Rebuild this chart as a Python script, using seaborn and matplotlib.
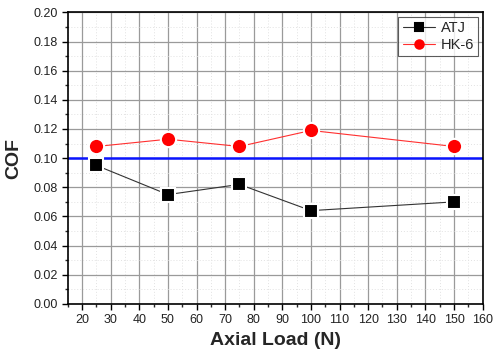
import matplotlib
matplotlib.use("Agg")
import matplotlib.pyplot as plt
import seaborn as sns
import pandas as pd
from matplotlib.ticker import MultipleLocator

loads = [25, 50, 75, 100, 150]
atj = [0.095, 0.075, 0.082, 0.064, 0.070]
hk6 = [0.108, 0.113, 0.108, 0.119, 0.108]
threshold = 0.10

sns.set_style("white")
plt.rcParams['font.family'] = ['Liberation Sans', 'DejaVu Sans']

df = pd.DataFrame({"load": loads * 2,
                   "cof": atj + hk6,
                   "series": ["ATJ"] * len(loads) + ["HK-6"] * len(loads)})

fig = plt.figure(figsize=(4.95, 3.53), dpi=100)
ax = fig.add_axes([0.137, 0.139, 0.838, 0.826])

ax.set_xlim(15, 160)
ax.set_ylim(0, 0.20)
ax.xaxis.set_major_locator(MultipleLocator(10))
ax.xaxis.set_minor_locator(MultipleLocator(5))
ax.yaxis.set_major_locator(MultipleLocator(0.02))
ax.yaxis.set_minor_locator(MultipleLocator(0.01))
ax.grid(which='major', color='#9a9a9a', linewidth=0.9)
ax.grid(which='minor', color='#e2e2e2', linewidth=0.7, linestyle=(0, (1, 2)))
ax.set_axisbelow(True)

ax.axhline(threshold, color='#0a14ff', linewidth=1.8, zorder=2)

sns.lineplot(data=df[df.series == "ATJ"], x="load", y="cof", ax=ax,
             color='#333333', linewidth=0.8, marker='s', markersize=10,
             markerfacecolor='black', markeredgecolor='white', markeredgewidth=1.5,
             label='ATJ', zorder=3)
sns.lineplot(data=df[df.series == "HK-6"], x="load", y="cof", ax=ax,
             color='#ff3030', linewidth=0.8, marker='o', markersize=11,
             markerfacecolor='#ff0000', markeredgecolor='white', markeredgewidth=1.5,
             label='HK-6', zorder=3)

leg = ax.legend(loc='upper right', fontsize=10.5, frameon=True, fancybox=False,
                edgecolor='#333333', borderpad=0.3, handlelength=2.2,
                handletextpad=0.4, labelspacing=0.2, borderaxespad=0.3,
                markerscale=0.55)
leg.get_frame().set_linewidth(0.8)
for line in leg.get_lines():
    line.set_markeredgecolor(line.get_markerfacecolor())

for s in ax.spines.values():
    s.set_visible(True)
    s.set_color('black')
    s.set_linewidth(1.2)

ax.tick_params(axis='both', which='major', direction='out', length=4, width=1,
               labelsize=9, colors='black', labelcolor='#222222',
               bottom=True, left=True, top=False, right=False)
ax.tick_params(axis='both', which='minor', direction='out', length=2.5, width=1,
               bottom=True, left=True, top=False, right=False)
ax.set_yticklabels([f"{v:.2f}" for v in ax.get_yticks()])

ax.set_xlabel("Axial Load (N)", fontsize=14, fontweight='bold', labelpad=4)
ax.set_ylabel("COF", fontsize=14, fontweight='bold', labelpad=8)

fig.savefig("out.png", dpi=100)
